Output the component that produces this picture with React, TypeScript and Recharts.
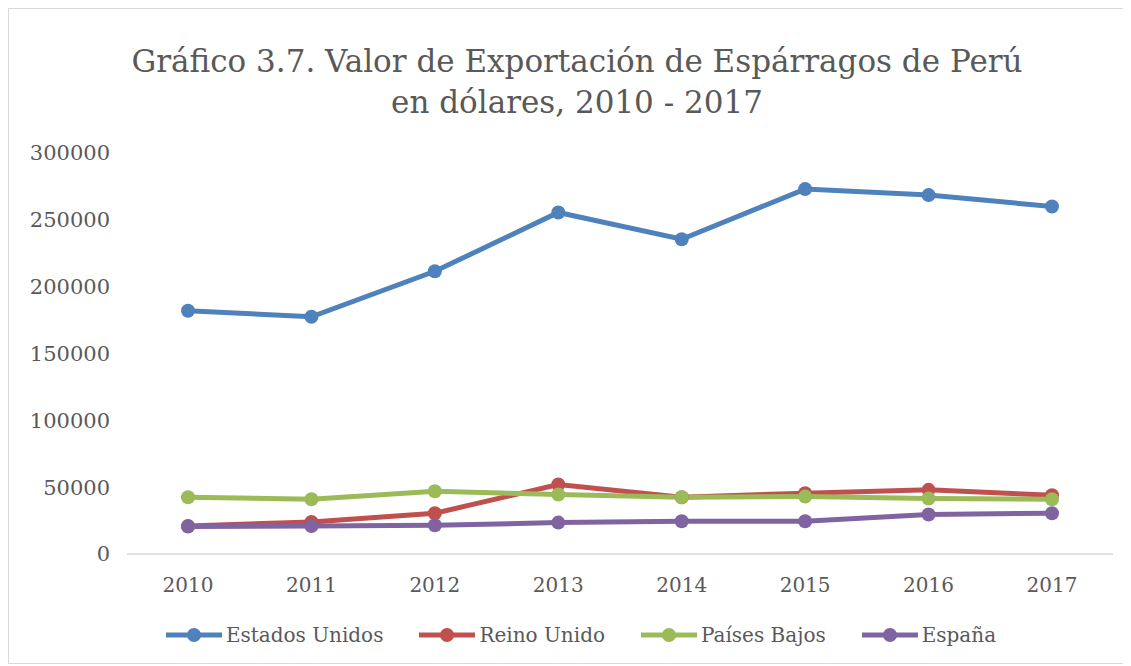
import React from 'react';
import { LineChart, Line, XAxis, YAxis, Legend } from 'recharts';

const years = ['2010', '2011', '2012', '2013', '2014', '2015', '2016', '2017'];
const estadosUnidos = [182000, 177500, 211500, 255500, 235500, 273000, 268500, 260000];
const reinoUnido = [21000, 24000, 30500, 52000, 42500, 45500, 48000, 44000];
const paisesBajos = [42500, 41000, 47000, 44500, 42500, 43000, 41500, 41000];
const espana = [20500, 21000, 21500, 23500, 24500, 24500, 29500, 30500];
const yTicks = [0, 50000, 100000, 150000, 200000, 250000, 300000];

const series = [
  { key: 'eu', name: 'Estados Unidos', color: '#4f81bd' },
  { key: 'ru', name: 'Reino Unido', color: '#c0504d' },
  { key: 'pb', name: 'Países Bajos', color: '#9bbb59' },
  { key: 'es', name: 'España', color: '#8064a2' },
];

const data = years.map((year, i) => ({
  year,
  eu: estadosUnidos[i],
  ru: reinoUnido[i],
  pb: paisesBajos[i],
  es: espana[i],
}));

const FONT = '"DejaVu Serif", serif';
const TEXT = '#595959';

const LegendContent = () => (
  <div style={{ display: 'flex', justifyContent: 'center', gap: 36, fontFamily: FONT, fontSize: 20, color: TEXT }}>
    {series.map((s) => (
      <div key={s.key} style={{ display: 'flex', alignItems: 'center', gap: 4 }}>
        <svg width={56} height={16}>
          <line x1={0} y1={8} x2={56} y2={8} stroke={s.color} strokeWidth={5} strokeLinecap="round" />
          <circle cx={28} cy={8} r={7} fill={s.color} />
        </svg>
        <span>{s.name}</span>
      </div>
    ))}
  </div>
);

const App = () => {
  return (
    <div style={{ position: 'relative', width: 1114, height: 654, border: '1px solid #d9d9d9', background: '#fff' }}>
      <div
        style={{
          position: 'absolute',
          top: 32,
          left: 28,
          width: 1080,
          textAlign: 'center',
          fontFamily: FONT,
          fontSize: 31,
          lineHeight: '41px',
          color: TEXT,
        }}
      >
        Gráfico 3.7. Valor de Exportación de Espárragos de Perú
        <br />
        en dólares, 2010 - 2017
      </div>
      <LineChart width={1114} height={654} data={data} margin={{ top: 144, right: 10, left: 0, bottom: 69 }}>
        <XAxis
          dataKey="year"
          height={40}
          padding={{ left: 61, right: 61 }}
          axisLine={{ stroke: '#d9d9d9', strokeWidth: 1.5 }}
          tickLine={false}
          tickMargin={18}
          tick={{ fontFamily: FONT, fontSize: 20, fill: TEXT }}
        />
        <YAxis
          width={118}
          domain={[0, 300000]}
          ticks={yTicks}
          axisLine={false}
          tickLine={false}
          tickMargin={11}
          tick={{ fontFamily: FONT, fontSize: 21, fill: TEXT }}
        />
        <Legend
          verticalAlign="middle"
          align="center"
          content={<LegendContent />}
          wrapperStyle={{ top: 614, left: 15, width: 1114 }}
        />
        {series.map((s) => (
          <Line
            key={s.key}
            type="linear"
            dataKey={s.key}
            name={s.name}
            stroke={s.color}
            strokeWidth={5}
            dot={{ r: 7, fill: s.color, stroke: s.color, strokeWidth: 0 }}
            activeDot={false}
            isAnimationActive={false}
          />
        ))}
      </LineChart>
    </div>
  );
};

export default App;
